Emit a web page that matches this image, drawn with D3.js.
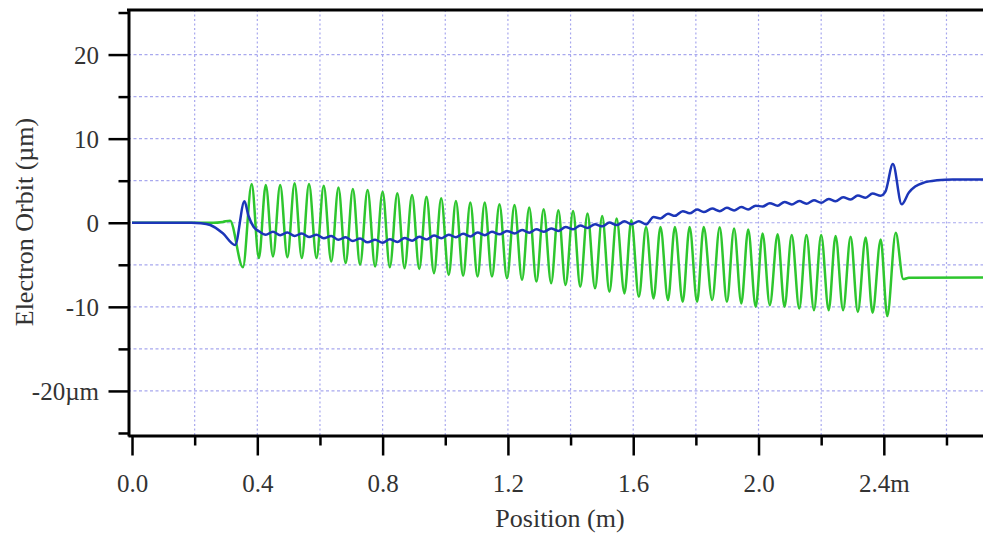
<!DOCTYPE html>
<html>
<head>
<meta charset="utf-8">
<script src="https://cdn.jsdelivr.net/npm/d3@7"></script>
<style>
  html, body { margin: 0; padding: 0; background: #fff; }
  svg { display: block; }
</style>
</head>
<body>
<svg id="chart" width="983" height="535"></svg>
<script>
// ---- Data (positions in m, orbit in µm) ----
// Green trace: turning points (peaks / troughs) and flat segments
const greenX = [0.00, 0.26, 0.29, 0.313, 0.354, 0.382, 0.405, 0.427, 0.450, 0.473, 0.496, 0.519, 0.542, 0.565, 0.589,
  0.612, 0.636, 0.659, 0.682, 0.705, 0.728, 0.752, 0.776, 0.800, 0.823, 0.847, 0.870, 0.894, 0.917, 0.940,
  0.964, 0.987, 1.011, 1.034, 1.057, 1.080, 1.103, 1.126, 1.149, 1.173, 1.197, 1.221, 1.245, 1.268, 1.291,
  1.314, 1.338, 1.361, 1.384, 1.408, 1.431, 1.454, 1.478, 1.501, 1.524, 1.547, 1.572, 1.594, 1.618, 1.641,
  1.665, 1.687, 1.711, 1.733, 1.758, 1.780, 1.804, 1.825, 1.852, 1.876, 1.899, 1.922, 1.945, 1.967, 1.991,
  2.013, 2.036, 2.061, 2.083, 2.106, 2.130, 2.153, 2.177, 2.200, 2.224, 2.246, 2.270, 2.294, 2.317, 2.342,
  2.364, 2.390, 2.411, 2.438, 2.462, 2.480, 2.720];
const greenY = [0.00, 0.00, 0.10, 0.25, -5.3, 4.6, -4.2, 4.5, -4.0, 4.5, -4.1, 4.7, -4.2, 4.6, -4.2,
  4.4, -4.6, 4.2, -4.8, 4.0, -5.0, 3.9, -5.2, 3.7, -5.3, 3.5, -5.4, 3.3, -5.5, 3.1,
  -6.0, 2.9, -6.2, 2.6, -6.3, 2.4, -6.4, 2.4, -6.4, 2.2, -6.6, 2.1, -6.8, 1.8, -7.0,
  1.6, -7.2, 1.5, -7.4, 1.4, -7.6, 1.1, -7.8, 0.8, -8.2, 0.5, -8.4, 0.3, -8.8, -0.5,
  -9.0, -0.5, -9.2, -0.5, -9.4, -0.5, -9.4, -0.5, -9.2, -0.55, -9.4, -0.67, -9.6, -0.8, -10.0,
  -1.27, -9.8, -1.38, -10.0, -1.46, -10.2, -1.46, -10.4, -1.46, -10.4, -1.58, -10.4, -1.66, -10.6, -1.74,
  -10.7, -2.0, -11.1, -1.2, -6.7, -6.55, -6.5];

// Blue trace: turning points and flat segments
const blueX = [0.00, 0.19, 0.22, 0.25, 0.29, 0.329, 0.359, 0.372, 0.388, 0.405, 0.427, 0.450, 0.473, 0.496, 0.519,
  0.542, 0.565, 0.589, 0.612, 0.636, 0.659, 0.682, 0.705, 0.728, 0.752, 0.776, 0.800, 0.823, 0.847, 0.870,
  0.894, 0.917, 0.940, 0.964, 0.987, 1.011, 1.034, 1.057, 1.080, 1.103, 1.126, 1.149, 1.173, 1.197, 1.221,
  1.245, 1.268, 1.291, 1.314, 1.338, 1.361, 1.384, 1.408, 1.431, 1.454, 1.478, 1.501, 1.524, 1.547, 1.572,
  1.594, 1.618, 1.641, 1.665, 1.687, 1.711, 1.733, 1.758, 1.780, 1.804, 1.825, 1.852, 1.876, 1.899, 1.922,
  1.945, 1.967, 1.991, 2.013, 2.036, 2.061, 2.083, 2.106, 2.130, 2.153, 2.177, 2.200, 2.224, 2.246, 2.270,
  2.294, 2.317, 2.342, 2.364, 2.390, 2.405, 2.429, 2.457, 2.480, 2.500, 2.530, 2.570, 2.620, 2.720];
const blueY = [0.00, 0.00, -0.05, -0.27, -1.26, -2.65, 2.55, 0.8, -0.47, -1.0, -1.43, -1.07, -1.48, -1.17, -1.58,
  -1.27, -1.68, -1.42, -1.83, -1.57, -2.03, -1.72, -2.18, -1.87, -2.33, -2.02, -2.38, -1.97, -2.28, -1.82,
  -2.13, -1.67, -1.98, -1.52, -1.83, -1.42, -1.73, -1.32, -1.63, -1.17, -1.48, -1.07, -1.38, -0.97, -1.28,
  -0.87, -1.18, -0.77, -1.08, -0.67, -0.98, -0.52, -0.78, -0.32, -0.63, -0.17, -0.43, 0.03, -0.28, 0.18,
  -0.18, 0.18, -0.2, 0.68, 0.52, 1.08, 0.82, 1.38, 1.12, 1.58, 1.27, 1.68, 1.37, 1.78, 1.47,
  1.88, 1.57, 2.03, 1.92, 2.33, 2.02, 2.48, 2.17, 2.58, 2.27, 2.68, 2.37, 2.83, 2.57, 3.03,
  2.77, 3.23, 2.97, 3.48, 3.22, 3.7, 6.98, 2.19, 3.6, 4.3, 4.8, 5.05, 5.15, 5.15];

// Axis ticks and labels
const xMajorTicks = [0.0, 0.4, 0.8, 1.2, 1.6, 2.0, 2.4];
const xTickLabels = ["0.0", "0.4", "0.8", "1.2", "1.6", "2.0", "2.4m"];
const xMinorTicks = [0.2, 0.6, 1.0, 1.4, 1.8, 2.2, 2.6];
const xGrid = [0.2, 0.4, 0.6, 0.8, 1.0, 1.2, 1.4, 1.6, 1.8, 2.0, 2.2, 2.4, 2.6];
const yMajorTicks = [20, 10, 0, -10, -20];
const yTickLabels = ["20", "10", "0", "-10", "-20µm"];
const yMinorTicks = [25, 15, 5, -5, -15, -25];
const yGrid = [20, 15, 10, 5, 0, -5, -10, -15, -20];

// ---- Drawing ----
const svg = d3.select("#chart");
const pLeft = 128, pRight = 983, pTop = 10, pBottom = 436;
const x = d3.scaleLinear().domain([-0.0128, 2.7166]).range([pLeft, pRight]);
const y = d3.scaleLinear().domain([-25.36, 25.3]).range([pBottom, pTop]);

const gridColor = "#a8a8ee";
svg.append("g").selectAll("line").data(yGrid).join("line")
  .attr("x1", pLeft).attr("x2", pRight)
  .attr("y1", d => y(d)).attr("y2", d => y(d))
  .attr("stroke", gridColor).attr("stroke-width", 1.2).attr("stroke-dasharray", "3,2.5");
svg.append("g").selectAll("line").data(xGrid).join("line")
  .attr("x1", d => x(d)).attr("x2", d => x(d))
  .attr("y1", pTop).attr("y2", pBottom)
  .attr("stroke", gridColor).attr("stroke-width", 1.2).attr("stroke-dasharray", "2,2.5");

svg.append("clipPath").attr("id", "plotclip").append("rect")
  .attr("x", pLeft + 1).attr("y", pTop + 1).attr("width", pRight - pLeft).attr("height", pBottom - pTop - 2);

const line = d3.line().x(d => x(d[0])).y(d => y(d[1])).curve(d3.curveMonotoneX);
const greenData = greenX.map((v, i) => [v, greenY[i]]);
const blueData = blueX.map((v, i) => [v, blueY[i]]);
const plot = svg.append("g").attr("clip-path", "url(#plotclip)");
plot.append("path").datum(greenData).attr("d", line)
  .attr("fill", "none").attr("stroke", "#2ec62e").attr("stroke-width", 2.5);
plot.append("path").datum(blueData).attr("d", line)
  .attr("fill", "none").attr("stroke", "#1c36b8").attr("stroke-width", 2.5);

const font = "'Liberation Serif', 'Times New Roman', serif";

// Bottom axis
const xAxisMajor = d3.axisBottom(x).tickValues(xMajorTicks).tickSize(20).tickSizeOuter(0)
  .tickFormat((d, i) => xTickLabels[i]);
const gx = svg.append("g").attr("transform", `translate(0,${pBottom - 0.5})`).call(xAxisMajor);
gx.select(".domain").attr("stroke-width", 3);
gx.selectAll(".tick line").attr("stroke-width", 2.5);
gx.selectAll(".tick text").attr("font-family", font).attr("font-size", 25).attr("fill", "#333")
  .attr("y", 56).attr("dy", 0);
const xAxisMinor = d3.axisBottom(x).tickValues(xMinorTicks).tickSize(10).tickSizeOuter(0).tickFormat("");
const gxm = svg.append("g").attr("transform", `translate(0,${pBottom - 0.5})`).call(xAxisMinor);
gxm.select(".domain").remove();
gxm.selectAll(".tick line").attr("stroke-width", 2.5);

// Left axis
const yAxisMajor = d3.axisLeft(y).tickValues(yMajorTicks).tickSize(20).tickSizeOuter(0)
  .tickFormat((d, i) => yTickLabels[i]);
const gy = svg.append("g").attr("transform", `translate(${pLeft + 0.5},0)`).call(yAxisMajor);
gy.select(".domain").attr("stroke-width", 3);
gy.selectAll(".tick line").attr("stroke-width", 2.5);
gy.selectAll(".tick text").attr("font-family", font).attr("font-size", 25).attr("fill", "#333")
  .attr("x", -29.5).attr("dy", "0.34em");
const yAxisMinor = d3.axisLeft(y).tickValues(yMinorTicks).tickSize(10).tickSizeOuter(0).tickFormat("");
const gym = svg.append("g").attr("transform", `translate(${pLeft + 0.5},0)`).call(yAxisMinor);
gym.select(".domain").remove();
gym.selectAll(".tick line").attr("stroke-width", 2.5);

// Top frame line
svg.append("line").attr("x1", pLeft - 1).attr("x2", pRight).attr("y1", pTop).attr("y2", pTop)
  .attr("stroke", "#000").attr("stroke-width", 3);

// Axis titles
svg.append("text").attr("x", 560).attr("y", 527).attr("text-anchor", "middle")
  .attr("font-family", font).attr("font-size", 26).attr("fill", "#333").text("Position (m)");
svg.append("text").attr("transform", "translate(33,222) rotate(-90)").attr("text-anchor", "middle")
  .attr("font-family", font).attr("font-size", 26).attr("fill", "#333").text("Electron Orbit (µm)");
</script>
</body>
</html>
